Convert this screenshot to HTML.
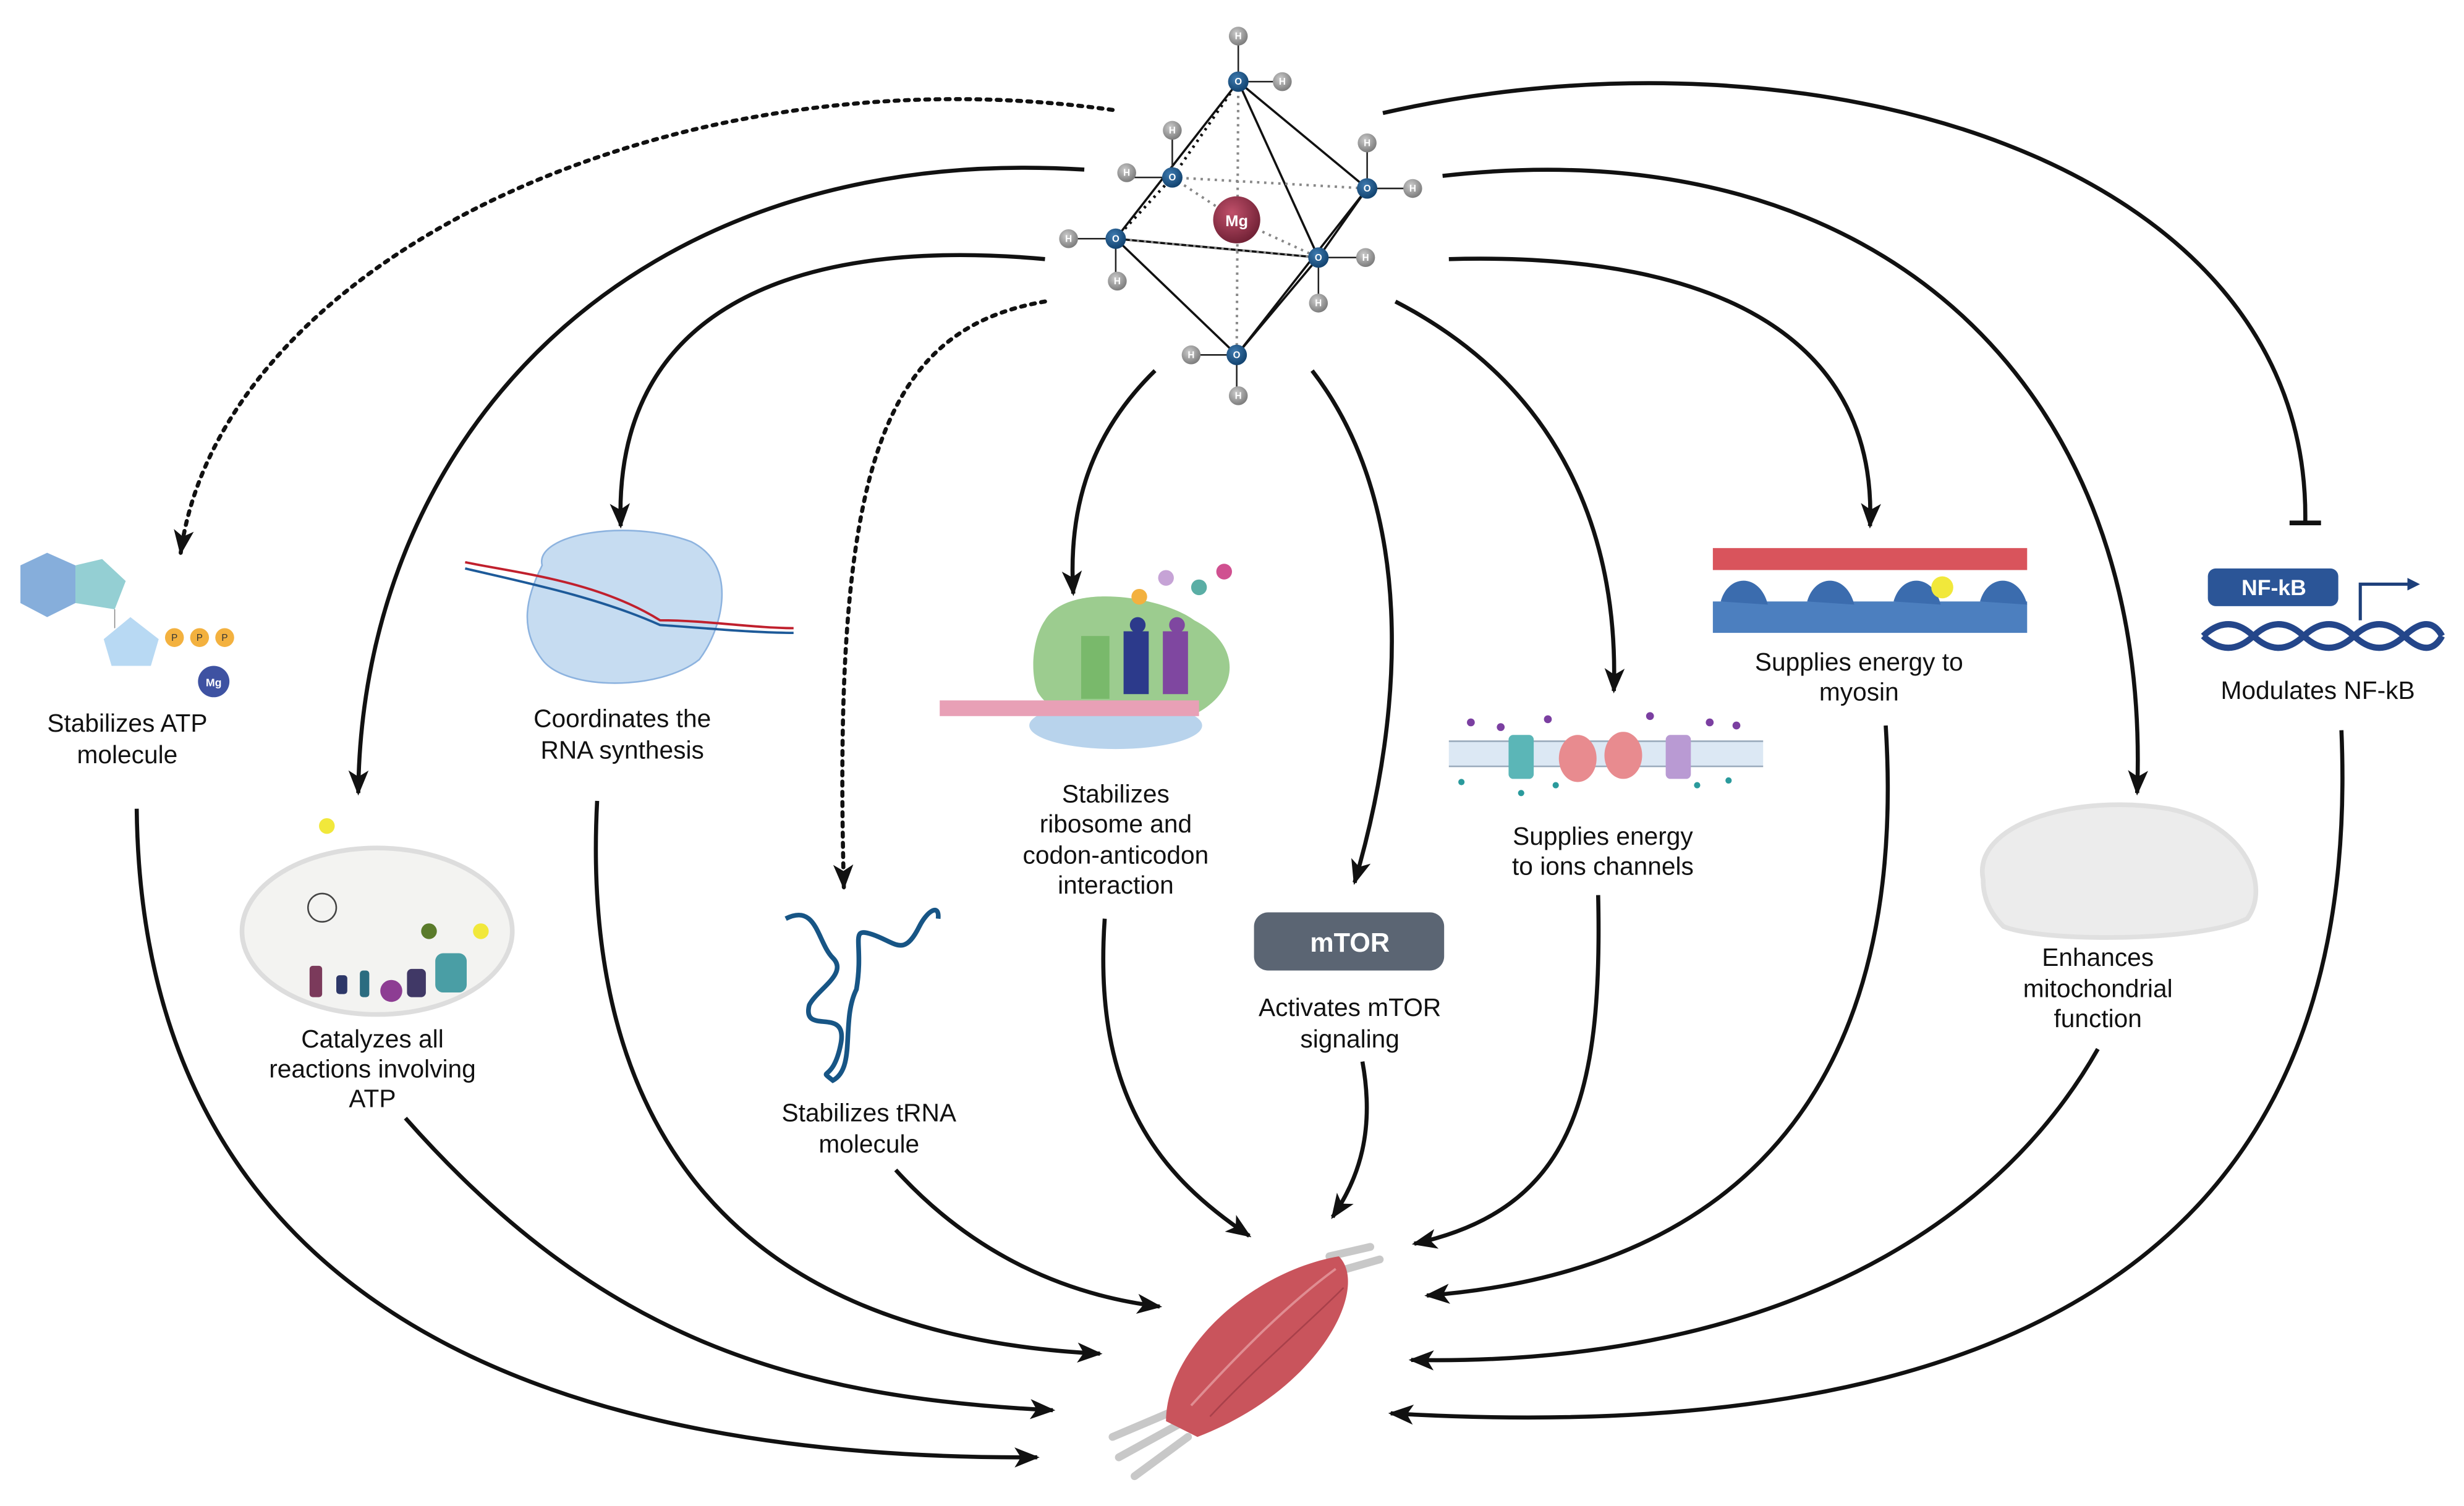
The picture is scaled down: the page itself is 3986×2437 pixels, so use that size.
<!DOCTYPE html>
<html><head><meta charset="utf-8"><style>
html,body{margin:0;padding:0;background:#fff;}
svg{display:block;}
text{font-family:"Liberation Sans",sans-serif;}
</style></head><body>
<svg width="3986" height="2437" viewBox="0 0 1568 959" preserveAspectRatio="none" xmlns="http://www.w3.org/2000/svg">
<defs>
<marker id="ah" viewBox="0 0 20 20" refX="18" refY="10" markerWidth="16" markerHeight="16" markerUnits="userSpaceOnUse" orient="auto">
<path d="M0,2 L20,10 L0,18 L5,10 Z" fill="#111"/>
</marker>
<radialGradient id="gH" cx="0.4" cy="0.35" r="0.7"><stop offset="0" stop-color="#ccc"/><stop offset="1" stop-color="#777"/></radialGradient>
<radialGradient id="gO" cx="0.4" cy="0.35" r="0.7"><stop offset="0" stop-color="#3f7bb0"/><stop offset="1" stop-color="#0f3f6b"/></radialGradient>
<radialGradient id="gMg" cx="0.4" cy="0.35" r="0.7"><stop offset="0" stop-color="#c0506a"/><stop offset="1" stop-color="#6d1f33"/></radialGradient>
</defs>
<g fill="none" stroke="#111" stroke-width="2.6" marker-end="url(#ah)">
<path d="M708,70 C420,30 140,170 115,352" stroke-dasharray="2.5,4" stroke-linecap="round"/>
<path d="M690,108 C400,90 230,280 228,505"/>
<path d="M665,165 C500,150 390,200 395,335"/>
<path d="M665,192 C560,210 530,300 537,565" stroke-dasharray="2.5,4" stroke-linecap="round"/>
<path d="M735,236 C690,280 680,330 683,378"/>
<path d="M835,236 C900,320 895,450 862,562"/>
<path d="M888,192 C1000,250 1030,350 1027,440"/>
<path d="M922,165 C1100,160 1195,220 1190,335"/>
<path d="M918,112 C1200,80 1370,250 1360,505"/>
<path d="M87,515 C90,800 300,930 660,928"/>
<path d="M258,712 C380,850 500,890 670,898"/>
<path d="M380,510 C370,700 450,850 700,862"/>
<path d="M570,745 C620,800 680,825 738,832"/>
<path d="M703,585 C695,700 740,750 795,787"/>
<path d="M867,676 C875,720 865,750 848,775"/>
<path d="M1017,570 C1020,700 1000,770 900,792"/>
<path d="M1200,462 C1215,700 1100,810 908,825"/>
<path d="M1335,668 C1260,800 1100,870 898,866"/>
<path d="M1490,465 C1500,700 1400,930 885,900"/>
</g>
<path d="M880,72 C1150,10 1470,100 1467,332" fill="none" stroke="#111" stroke-width="2.6"/>
<line x1="1457" y1="333" x2="1477" y2="333" stroke="#111" stroke-width="3"/>

<!-- Mg complex -->
<g stroke="#111" stroke-width="1.4" fill="none">
<path d="M788,52 L710,152 L787,226 L839,164 L870,120 L788,52 L839,164 M710,152 L839,164 M787,226 L870,120"/>
</g>
<g stroke="#888" stroke-width="1.6" stroke-dasharray="1.5,3" fill="none">
<path d="M788,52 L787,226 M746,113 L870,120 M710,152 L839,164 M746,113 L787,140 M787,140 L839,164"/>
</g>
<path d="M788,52 L746,113 L710,152" stroke="#111" stroke-width="1.8" stroke-dasharray="1.5,3" fill="none"/>
<g stroke="#222" stroke-width="1">
<path d="M788,52 V23 M788,52 H816 M746,113 V83 M746,113 H717 M870,120 V91 M870,120 H899 M710,152 H680 M710,152 V179 M839,164 H869 M839,164 V193 M787,226 H758 M787,226 V252"/>
</g>
<circle cx="787" cy="140" r="15" fill="url(#gMg)"/>
<text x="787" y="144" font-size="10" font-weight="bold" fill="#fff" text-anchor="middle">Mg</text>
<g fill="url(#gO)">
<circle cx="788" cy="52" r="6.5"/><circle cx="746" cy="113" r="6.5"/><circle cx="870" cy="120" r="6.5"/><circle cx="710" cy="152" r="6.5"/><circle cx="839" cy="164" r="6.5"/><circle cx="787" cy="226" r="6.5"/>
</g>
<g font-size="6" font-weight="bold" fill="#fff" text-anchor="middle">
<text x="788" y="54">O</text><text x="746" y="115">O</text><text x="870" y="122">O</text><text x="710" y="154">O</text><text x="839" y="166">O</text><text x="787" y="228">O</text>
</g>
<g fill="url(#gH)">
<circle cx="788" cy="23" r="6"/><circle cx="816" cy="52" r="6"/><circle cx="746" cy="83" r="6"/><circle cx="717" cy="110" r="6"/><circle cx="870" cy="91" r="6"/><circle cx="899" cy="120" r="6"/><circle cx="680" cy="152" r="6"/><circle cx="711" cy="179" r="6"/><circle cx="869" cy="164" r="6"/><circle cx="839" cy="193" r="6"/><circle cx="758" cy="226" r="6"/><circle cx="788" cy="252" r="6"/>
</g>
<g font-size="6" font-weight="bold" fill="#fff" text-anchor="middle">
<text x="788" y="25">H</text><text x="816" y="54">H</text><text x="746" y="85">H</text><text x="717" y="112">H</text><text x="870" y="93">H</text><text x="899" y="122">H</text><text x="680" y="154">H</text><text x="711" y="181">H</text><text x="869" y="166">H</text><text x="839" y="195">H</text><text x="758" y="228">H</text><text x="788" y="254">H</text>
</g>

<!-- ATP molecule -->
<polygon points="30,352 48,360 48,384 30,393 13,384 13,360" fill="#86aedb"/>
<polygon points="48,360 65,356 80,370 73,388 48,384" fill="#94cfd3"/>
<polygon points="83,393 101,407 96,424 71,424 66,407" fill="#b8d9f3"/>
<line x1="73" y1="388" x2="73" y2="400" stroke="#888" stroke-width="0.6"/>
<g fill="#f3b13f"><circle cx="111" cy="406" r="6"/><circle cx="127" cy="406" r="6"/><circle cx="143" cy="406" r="6"/></g>
<g font-size="6" fill="#333" text-anchor="middle"><text x="111" y="408">P</text><text x="127" y="408">P</text><text x="143" y="408">P</text></g>
<circle cx="136" cy="434" r="10" fill="#3e52a2"/>
<text x="136" y="437" font-size="7" fill="#fff" text-anchor="middle" font-weight="bold">Mg</text>
<text font-size="16" text-anchor="middle" fill="#111"><tspan x="81" y="466">Stabilizes ATP</tspan><tspan x="81" y="486">molecule</tspan></text>

<!-- RNA polymerase -->
<path d="M345,360 C340,340 400,330 440,345 C470,360 460,400 445,420 C420,440 360,440 345,420 C330,400 335,380 345,360 Z" fill="#c6dcf1" stroke="#8db3df"/>
<path d="M296,358 C330,365 380,370 420,395 C450,395 480,400 505,400" stroke="#c0202d" stroke-width="1.5" fill="none"/>
<path d="M296,362 C330,370 380,380 420,398 C450,400 480,403 505,403" stroke="#1d5a99" stroke-width="1.5" fill="none"/>
<text font-size="16" text-anchor="middle" fill="#111"><tspan x="396" y="463">Coordinates the</tspan><tspan x="396" y="483">RNA synthesis</tspan></text>

<!-- Mitochondrion left -->
<ellipse cx="240" cy="593" rx="86" ry="53" fill="#f3f3f1" stroke="#ddd" stroke-width="3"/>
<circle cx="208" cy="526" r="5" fill="#f1e83b"/>
<circle cx="205" cy="578" r="9" fill="none" stroke="#444" stroke-width="1"/>
<rect x="197" y="615" width="8" height="20" rx="2" fill="#7b3a5b"/>
<rect x="214" y="621" width="7" height="12" rx="2" fill="#2d3768"/>
<rect x="229" y="618" width="6" height="17" rx="2" fill="#2b6c80"/>
<circle cx="249" cy="631" r="7" fill="#8d3d93"/>
<rect x="259" y="617" width="12" height="18" rx="3" fill="#403866"/>
<rect x="277" y="607" width="20" height="25" rx="5" fill="#4a9ea5"/>
<circle cx="273" cy="593" r="5" fill="#5a7b2b"/><circle cx="306" cy="593" r="5" fill="#f1e83b"/>
<text font-size="16" text-anchor="middle" fill="#111"><tspan x="237" y="667">Catalyzes all</tspan><tspan x="237" y="686">reactions involving</tspan><tspan x="237" y="705">ATP</tspan></text>

<!-- tRNA -->
<path d="M500,585 C520,575 520,600 530,610 C540,620 520,630 515,640 C510,660 540,640 535,665 C530,690 520,680 530,688 C545,680 535,650 545,630 C550,600 540,590 555,595 C570,600 575,610 585,590 C590,580 598,575 597,585" fill="none" stroke="#175585" stroke-width="3"/>
<text font-size="16" text-anchor="middle" fill="#111"><tspan x="553" y="714">Stabilizes tRNA</tspan><tspan x="553" y="734">molecule</tspan></text>

<!-- Ribosome green -->
<path d="M665,395 C680,370 740,380 760,395 C790,410 790,440 760,455 C720,470 670,460 660,440 C655,425 658,405 665,395Z" fill="#9ccc8f"/>
<ellipse cx="710" cy="462" rx="55" ry="15" fill="#b8d3ec"/>
<rect x="598" y="446" width="165" height="10" fill="#e8a0b6"/>
<rect x="688" y="405" width="18" height="40" fill="#79b96b"/>
<rect x="715" y="402" width="16" height="40" fill="#2c3a8b"/>
<rect x="740" y="402" width="16" height="40" fill="#7f47a0"/>
<circle cx="724" cy="398" r="5" fill="#2c3a8b"/><circle cx="749" cy="398" r="5" fill="#7f47a0"/>
<circle cx="725" cy="380" r="5" fill="#f3b13f"/><circle cx="742" cy="368" r="5" fill="#c6a3d6"/><circle cx="763" cy="374" r="5" fill="#5aaea5"/><circle cx="779" cy="364" r="5" fill="#d05090"/>
<text font-size="16" text-anchor="middle" fill="#111"><tspan x="710" y="511">Stabilizes</tspan><tspan x="710" y="530">ribosome and</tspan><tspan x="710" y="550">codon-anticodon</tspan><tspan x="710" y="569">interaction</tspan></text>

<!-- mTOR -->
<rect x="798" y="581" width="121" height="37" rx="9" fill="#5b6573"/>
<text x="859" y="606" font-size="17" font-weight="bold" text-anchor="middle" fill="#fff">mTOR</text>
<text font-size="16" text-anchor="middle" fill="#111"><tspan x="859" y="647">Activates mTOR</tspan><tspan x="859" y="667">signaling</tspan></text>

<!-- ion channels -->
<rect x="922" y="472" width="200" height="16" fill="#dce8f4"/>
<line x1="922" y1="472" x2="1122" y2="472" stroke="#9ab" stroke-width="1"/>
<line x1="922" y1="488" x2="1122" y2="488" stroke="#9ab" stroke-width="1"/>
<rect x="960" y="468" width="16" height="28" rx="3" fill="#5bb6b7"/>
<ellipse cx="1004" cy="483" rx="12" ry="15" fill="#e88b8f"/>
<ellipse cx="1033" cy="481" rx="12" ry="15" fill="#e88b8f"/>
<rect x="1060" y="468" width="16" height="28" rx="3" fill="#b99ad3"/>
<g fill="#7b3fa1"><circle cx="936" cy="460" r="2.5"/><circle cx="955" cy="463" r="2.5"/><circle cx="985" cy="458" r="2.5"/><circle cx="1050" cy="456" r="2.5"/><circle cx="1088" cy="460" r="2.5"/><circle cx="1105" cy="462" r="2.5"/></g>
<g fill="#2a9a9c"><circle cx="930" cy="498" r="2"/><circle cx="968" cy="505" r="2"/><circle cx="990" cy="500" r="2"/><circle cx="1080" cy="500" r="2"/><circle cx="1100" cy="497" r="2"/></g>
<text font-size="16" text-anchor="middle" fill="#111"><tspan x="1020" y="538">Supplies energy</tspan><tspan x="1020" y="557">to ions channels</tspan></text>

<!-- myosin -->
<rect x="1090" y="349" width="200" height="14" fill="#d9545c"/>
<rect x="1090" y="383" width="200" height="20" fill="#4c7fbf"/>
<g fill="#3b6cae"><path d="M1095,383 C1100,365 1120,365 1125,385Z"/><path d="M1150,383 C1155,365 1175,365 1180,385Z"/><path d="M1205,383 C1210,365 1230,365 1235,385Z"/><path d="M1260,383 C1265,365 1285,365 1290,385Z"/></g>
<circle cx="1236" cy="374" r="7" fill="#f1e83b"/>
<text font-size="16" text-anchor="middle" fill="#111"><tspan x="1183" y="427">Supplies energy to</tspan><tspan x="1183" y="446">myosin</tspan></text>

<!-- mitochondria right -->
<path d="M1262,560 C1255,525 1320,505 1380,515 C1430,525 1445,565 1430,585 C1400,600 1300,600 1275,590 C1265,580 1262,570 1262,560Z" fill="#ececec" stroke="#e0e0e0" stroke-width="3"/>
<text font-size="16" text-anchor="middle" fill="#111"><tspan x="1335" y="615">Enhances</tspan><tspan x="1335" y="635">mitochondrial</tspan><tspan x="1335" y="654">function</tspan></text>

<!-- NF-kB -->
<rect x="1405" y="362" width="83" height="24" rx="5" fill="#2b5597"/>
<text x="1447" y="379" font-size="14" font-weight="bold" text-anchor="middle" fill="#fff">NF-kB</text>
<path d="M1502,395 V372 H1532" fill="none" stroke="#1d3f7a" stroke-width="2"/>
<path d="M1532,368 L1540,372 L1532,376Z" fill="#1d3f7a"/>
<path d="M1402,405 Q1418,390 1434,405 T1466,405 T1498,405 T1530,405 T1554,405" fill="none" stroke="#24468a" stroke-width="4"/>
<path d="M1402,405 Q1418,420 1434,405 T1466,405 T1498,405 T1530,405 T1554,405" fill="none" stroke="#24468a" stroke-width="4"/>
<text x="1475" y="445" font-size="16" text-anchor="middle" fill="#111">Modulates NF-kB</text>

<!-- muscle -->
<path d="M708,915 L748,898 M712,928 L752,906 M722,940 L756,915" stroke="#c8c8c8" stroke-width="5" stroke-linecap="round"/>
<path d="M846,800 L872,794 M850,810 L878,802" stroke="#c8c8c8" stroke-width="5" stroke-linecap="round"/>
<path d="M742,905 C742,860 795,810 852,800 C872,820 840,885 762,915 Z" fill="#c9545c"/>
<path d="M758,895 C790,860 820,830 850,808" stroke="#e08d92" stroke-width="1.5" fill="none"/>
<path d="M770,902 C800,870 830,845 855,820" stroke="#a8404a" stroke-width="1" fill="none"/>
</svg>
</body></html>
